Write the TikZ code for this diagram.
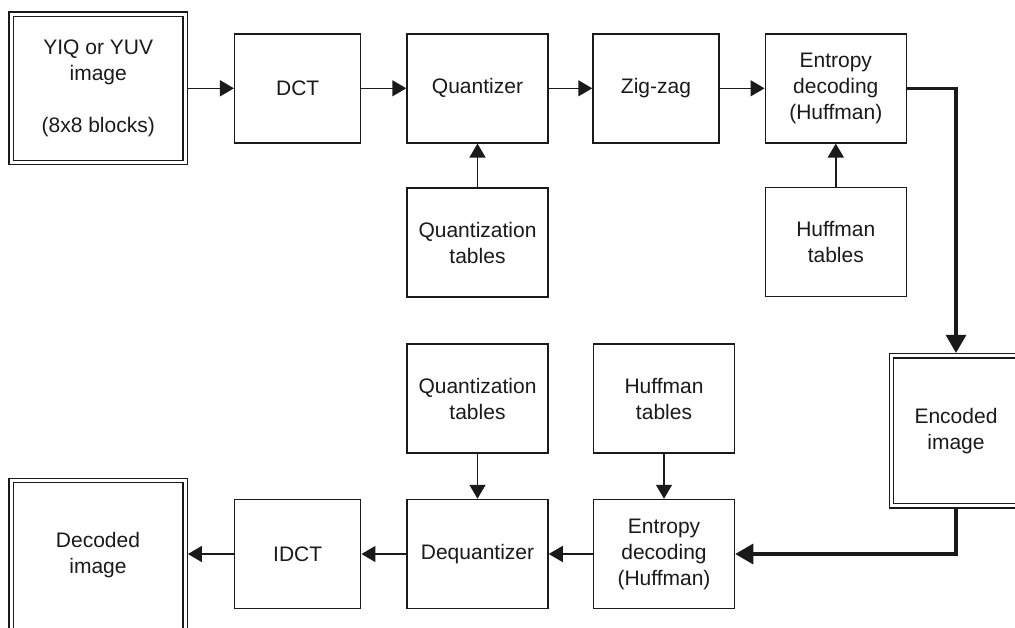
\documentclass[tikz,border=0pt]{standalone}
\usepackage{fontspec}
\setmainfont{Liberation Sans}
\usetikzlibrary{arrows.meta}
\definecolor{ink}{RGB}{26,26,26}
\begin{document}
\begin{tikzpicture}[x=1pt,y=-1pt,
  stage/.style={draw=ink, line width=1.5pt, inner sep=0pt, align=center,
    text=ink, font=\fontsize{21}{26}\selectfont},
  narrow/.style={stage, minimum width=126pt, minimum height=109pt},
  wide/.style={stage, minimum width=141pt, minimum height=109pt},
  store/.style={stage, line width=1.4pt, double=white, double distance=3pt, outer sep=2.9pt},
  flow/.style={draw=ink, line width=1.5pt, -{Triangle[length=14pt,width=16pt]}},
  bus/.style={draw=ink, line width=3.2pt, -{Triangle[length=18pt,width=20pt]}}]

\useasboundingbox (0,0) rectangle (1015,627);
\fill[white] (0,0) rectangle (1015,627);
\clip (0,0) rectangle (1015,627);

% encoder row
\node[store, minimum width=173.7pt, minimum height=148.2pt] (src) at (98.2,88.3)
  {YIQ or YUV\\image\\[26pt](8x8 blocks)};
\node[narrow] (dct) at (297.7,88.3) {DCT};
\node[wide] (quant) at (477.5,88.3) {Quantizer};
\node[narrow] (zigzag) at (656,88.3) {Zig-zag};
\node[wide] (enc) at (835.8,88.3) {Entropy\\decoding\\(Huffman)};

% encoder tables
\node[wide] (qtabA) at (477.5,242.7) {Quantization\\tables};
\node[wide] (htabA) at (835.8,242.2) {Huffman\\tables};

% stored bit stream
\node[store, minimum width=129pt, minimum height=150pt] (coded) at (956,430.8)
  {Encoded\\image};

% decoder tables
\node[wide] (qtabB) at (477.5,398.5) {Quantization\\tables};
\node[wide] (htabB) at (664,398.5) {Huffman\\tables};

% decoder row
\node[wide] (dec) at (664,554) {Entropy\\decoding\\(Huffman)};
\node[wide] (dequant) at (477.5,554) {Dequantizer};
\node[narrow] (idct) at (297.7,554) {IDCT};
\node[store, minimum width=174pt, minimum height=150pt] (out) at (98,555.5)
  {Decoded\\image};

% encoder connections
\draw[flow] (src) -- (dct);
\draw[flow] (dct) -- (quant);
\draw[flow] (quant) -- (zigzag);
\draw[flow] (zigzag) -- (enc);
\draw[flow] (qtabA) -- (quant);
\draw[flow] (htabA) -- (enc);

% through the stored image
\draw[bus] (enc.east) -| (coded.north);
\draw[bus] (coded.south) |- (dec.east);

% decoder connections
\draw[flow] (htabB) -- (dec);
\draw[flow] (qtabB) -- (dequant);
\draw[flow] (dec) -- (dequant);
\draw[flow] (dequant) -- (idct);
\draw[flow] (idct.west) -- (idct.west -| out.east);
\end{tikzpicture}
\end{document}
